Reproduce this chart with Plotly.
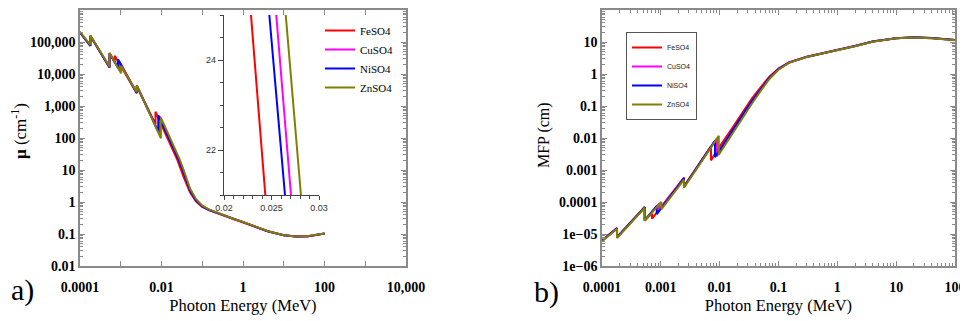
import plotly.graph_objects as go

# ---------------- data ----------------
names = ["FeSO4", "CuSO4", "NiSO4", "ZnSO4"]
colors = ["#ff0000", "#ff00ff", "#0000ff", "#808000"]

# photon energy (MeV) grid for each compound (edges differ per compound)
fe_energy = [1e-4, 1.8e-4, 1.801e-4, 5.32e-4, 5.321e-4, 7.08e-4, 7.081e-4, 2.472e-3, 2.4721e-3,
             7.112e-3, 7.1121e-3, 0.01, 0.0166, 0.02284, 0.02435, 0.035, 0.05, 0.07, 0.1, 0.15,
             0.3, 0.6, 1, 2, 4, 10, 20, 40, 100]
cu_energy = [1e-4, 1.8e-4, 1.801e-4, 5.32e-4, 5.321e-4, 9.33e-4, 9.331e-4, 2.472e-3, 2.4721e-3,
             8.979e-3, 8.9791e-3, 0.0125, 0.0185, 0.0255, 0.02705, 0.035, 0.05, 0.07, 0.1, 0.15,
             0.3, 0.6, 1, 2, 4, 10, 20, 40, 100]
ni_energy = [1e-4, 1.8e-4, 1.801e-4, 5.32e-4, 5.321e-4, 8.53e-4, 8.531e-4, 2.472e-3, 2.4721e-3,
             8.333e-3, 8.3331e-3, 0.0125, 0.0185, 0.02477, 0.02642, 0.035, 0.05, 0.07, 0.1, 0.15,
             0.3, 0.6, 1, 2, 4, 10, 20, 40, 100]
zn_energy = [1e-4, 1.8e-4, 1.801e-4, 5.32e-4, 5.321e-4, 1.02e-3, 1.0201e-3, 2.472e-3, 2.4721e-3,
             9.659e-3, 9.6591e-3, 0.0125, 0.0185, 0.0265, 0.0281, 0.035, 0.05, 0.07, 0.1, 0.15,
             0.3, 0.6, 1, 2, 4, 10, 20, 40, 100]

# linear attenuation coefficient mu (cm^-1), panel a)
fe_mu = [2.0e5, 7.6e4, 1.55e5, 1.6e4, 4.4e4, 2.4e4, 3.7e4, 2.5e3, 4.2e3,
         270, 660, 260, 65, 25, 21, 6.0, 2.0, 1.05, 0.70, 0.55,
         0.40, 0.29, 0.235, 0.17, 0.122, 0.091, 0.083, 0.085, 0.103]
cu_mu = [2.0e5, 7.7e4, 1.56e5, 1.62e4, 4.45e4, 1.3e4, 2.4e4, 2.6e3, 4.4e3,
         130, 470, 186, 62, 25, 21, 8.7, 2.45, 1.18, 0.75, 0.57,
         0.40, 0.29, 0.236, 0.171, 0.123, 0.091, 0.083, 0.085, 0.103]
ni_mu = [2.0e5, 7.6e4, 1.55e5, 1.61e4, 4.4e4, 1.6e4, 2.9e4, 2.55e3, 4.3e3,
         158, 516, 167, 56, 25, 21, 8.1, 2.3, 1.13, 0.73, 0.56,
         0.40, 0.29, 0.235, 0.17, 0.122, 0.091, 0.083, 0.085, 0.103]
zn_mu = [2.1e5, 8.0e4, 1.6e5, 1.7e4, 4.6e4, 1.05e4, 1.8e4, 2.7e3, 4.5e3,
         98, 435, 210, 69, 25, 21, 10, 2.65, 1.24, 0.77, 0.58,
         0.41, 0.295, 0.238, 0.172, 0.124, 0.092, 0.084, 0.086, 0.104]

# mean free path (cm), panel b)
fe_mfp = [6.3e-6, 1.55e-5, 8.0e-6, 7.0e-5, 2.7e-5, 4.4e-5, 3.0e-5, 5.8e-4, 3.1e-4,
          5.5e-3, 2.0e-3, 5.4e-3, 0.021, 0.053, 0.064, 0.168, 0.39, 0.82, 1.48, 2.3,
          3.45, 4.5, 5.5, 7.5, 10.4, 13.2, 14.0, 13.3, 11.6]
cu_mfp = [6.1e-6, 1.5e-5, 7.8e-6, 6.8e-5, 2.6e-5, 8.9e-5, 5.7e-5, 5.4e-4, 2.95e-4,
          9.8e-3, 2.7e-3, 7.05e-3, 0.021, 0.053, 0.063, 0.134, 0.33, 0.73, 1.40, 2.25,
          3.4, 4.5, 5.5, 7.5, 10.3, 13.1, 13.9, 13.2, 11.5]
ni_mfp = [6.2e-6, 1.5e-5, 7.9e-6, 6.9e-5, 2.7e-5, 7.6e-5, 4.2e-5, 5.5e-4, 3.0e-4,
          8.3e-3, 2.5e-3, 8.1e-3, 0.023, 0.0536, 0.0646, 0.141, 0.34, 0.75, 1.42, 2.27,
          3.42, 4.5, 5.5, 7.5, 10.4, 13.2, 14.0, 13.3, 11.6]
zn_mfp = [5.9e-6, 1.45e-5, 7.5e-6, 6.6e-5, 2.6e-5, 1.0e-4, 5.9e-5, 5.0e-4, 2.8e-4,
          0.0117, 3.0e-3, 6.3e-3, 0.0185, 0.0524, 0.062, 0.115, 0.30, 0.70, 1.36, 2.22,
          3.38, 4.45, 5.45, 7.4, 10.2, 13.0, 13.8, 13.1, 11.4]

energies = [fe_energy, cu_energy, ni_energy, zn_energy]
mus = [fe_mu, cu_mu, ni_mu, zn_mu]
mfps = [fe_mfp, cu_mfp, ni_mfp, zn_mfp]

# tick labels
a_xticks = [1e-4, 1e-2, 1, 100, 1e4]
a_xlabels = ["0.0001", "0.01", "1", "100", "10,000"]
a_xticks_unlabeled = [1e-3, 1e-1, 10, 1e3]
a_yticks = [1e-2, 1e-1, 1, 10, 100, 1e3, 1e4, 1e5, 1e6]
a_ylabels = ["0.01", "0.1", "1", "10", "100", "1,000", "10,000", "100,000", "1e+06"]
b_xticks = [1e-4, 1e-3, 1e-2, 1e-1, 1, 10, 100]
b_xlabels = ["0.0001", "0.001", "0.01", "0.1", "1", "10", "100"]
b_yticks = [1e-6, 1e-5, 1e-4, 1e-3, 1e-2, 1e-1, 1, 10, 100]
b_ylabels = ["1e\u221206", "1e\u221205", "0.0001", "0.001", "0.01", "0.1", "1", "10", "100"]
inset_xticks = [0.02, 0.025, 0.03]
inset_xlabels = ["0.02", "0.025", "0.03"]
inset_yticks = [22, 24]
inset_ylabels = ["22", "24"]

# ---------------- figure ----------------
# the page body has an 8px margin, so the figure is 8px smaller and all
# layout positions below are given in page pixels and converted.
OFF = 8
W, H = 968 - OFF, 321 - OFF
SERIF = "Liberation Serif, Times New Roman, Times, serif"
SANS = "Liberation Sans, Arial, Helvetica, sans-serif"
AXC = "#8a8a8a"
TXT = "#000000"


def px_x(p):
    return (p - OFF) / W


def px_y(p):
    return 1 - (p - OFF) / H


fig = go.Figure()

for n, c, e, m in zip(names, colors, energies, mus):
    fig.add_trace(go.Scatter(x=e, y=m, mode="lines", name=n, line=dict(color=c, width=2),
                             xaxis="x", yaxis="y", legend="legend"))
for n, c, e, m in zip(names, colors, energies, mfps):
    fig.add_trace(go.Scatter(x=e, y=m, mode="lines", name=n, line=dict(color=c, width=2),
                             xaxis="x2", yaxis="y2", legend="legend2"))
for n, c, e, m in zip(names, colors, energies, mus):
    fig.add_trace(go.Scatter(x=e, y=m, mode="lines", name=n, line=dict(color=c, width=2),
                             xaxis="x3", yaxis="y3", showlegend=False))


def minor_log(k0, k1):
    return [mm * 10 ** k for k in range(k0, k1) for mm in range(2, 10)]


tickfont = dict(family=SERIF, size=14, color=TXT, weight="bold")
common = dict(showgrid=False, zeroline=False, showline=True, linecolor=AXC, linewidth=1.5,
              mirror="allticks", ticks="inside", tickcolor=AXC, tickwidth=1.2, ticklen=5,
              tickfont=tickfont, tickmode="array", automargin=False)
xtitle_font = dict(family=SERIF, size=16.5, color=TXT)

fig.update_layout(
    width=W, height=H, margin=dict(l=0, r=0, t=0, b=0),
    paper_bgcolor="white", plot_bgcolor="white",
    xaxis=dict(common, type="log", domain=[px_x(80), px_x(406)], range=[-4, 4],
               tickvals=a_xticks, ticktext=a_xlabels, anchor="y", ticklabelstandoff=7,
               minor=dict(tickvals=a_xticks_unlabeled, ticks="inside", ticklen=5, tickcolor=AXC),
               title=dict(text="Photon Energy (MeV)", font=xtitle_font, standoff=6)),
    yaxis=dict(common, type="log", domain=[px_y(266), px_y(10)], range=[-2, 6],
               tickvals=a_yticks, ticktext=a_ylabels, anchor="x",
               minor=dict(tickvals=minor_log(-2, 6), ticks="inside", ticklen=3, tickcolor=AXC)),
    xaxis2=dict(common, type="log", domain=[px_x(602), px_x(955)], range=[-4, 2],
                tickvals=b_xticks, ticktext=b_xlabels, anchor="y2", ticklabelstandoff=7,
                minor=dict(tickvals=minor_log(-4, 2), ticks="inside", ticklen=3, tickcolor=AXC),
                title=dict(text="Photon Energy (MeV)", font=xtitle_font, standoff=6)),
    yaxis2=dict(common, type="log", domain=[px_y(266), px_y(10)], range=[-6, 2],
                tickvals=b_yticks, ticktext=b_ylabels, anchor="x2",
                minor=dict(tickvals=minor_log(-6, 2), ticks="inside", ticklen=3, tickcolor=AXC)),
    xaxis3=dict(domain=[px_x(224), px_x(319)], range=[0.02, 0.03], anchor="y3", automargin=False,
                showgrid=False, zeroline=False, showline=True, linecolor="#444", linewidth=1.2,
                ticks="outside", ticklen=4, tickcolor="#444", tickmode="array",
                tickvals=inset_xticks, ticktext=inset_xlabels,
                minor=dict(dtick=0.001, ticks="outside", ticklen=3, tickcolor="#444"),
                tickfont=dict(family=SANS, size=9, color="#333")),
    yaxis3=dict(domain=[px_y(195), px_y(15)], range=[21, 25], anchor="x3", automargin=False,
                showgrid=False, zeroline=False, showline=True, linecolor="#444", linewidth=1.2,
                ticks="outside", ticklen=5, tickcolor="#444", tickmode="array",
                tickvals=inset_yticks, ticktext=inset_ylabels,
                minor=dict(dtick=0.5, ticks="outside", ticklen=3, tickcolor="#444"),
                tickfont=dict(family=SANS, size=9, color="#333")),
    legend=dict(x=px_x(320), y=px_y(16), xanchor="left", yanchor="top",
                bgcolor="rgba(0,0,0,0)", borderwidth=0, itemwidth=30,
                font=dict(family=SERIF, size=11, color=TXT)),
    legend2=dict(x=px_x(626), y=px_y(32), xanchor="left", yanchor="top",
                 bgcolor="white", bordercolor="#555", borderwidth=1, itemwidth=30,
                 font=dict(family=SANS, size=7, color="#222")),
)

annots = [
    dict(text="<b>\u03bc</b> (cm<sup>-1</sup>)", x=px_x(19), y=px_y(131), textangle=-90,
         xanchor="center", font=dict(family=SERIF, size=17, color=TXT)),
    dict(text="MFP (cm)", x=px_x(544), y=px_y(135), textangle=-90,
         xanchor="center", font=dict(family=SERIF, size=16, color=TXT)),
    dict(text="a)", x=px_x(9), y=px_y(290), xanchor="left",
         font=dict(family=SERIF, size=30, color=TXT)),
    dict(text="b)", x=px_x(532), y=px_y(292), xanchor="left",
         font=dict(family=SERIF, size=30, color=TXT)),
]
for a in annots:
    fig.add_annotation(xref="paper", yref="paper", showarrow=False, yanchor="middle", **a)

fig.write_html("out.html")
